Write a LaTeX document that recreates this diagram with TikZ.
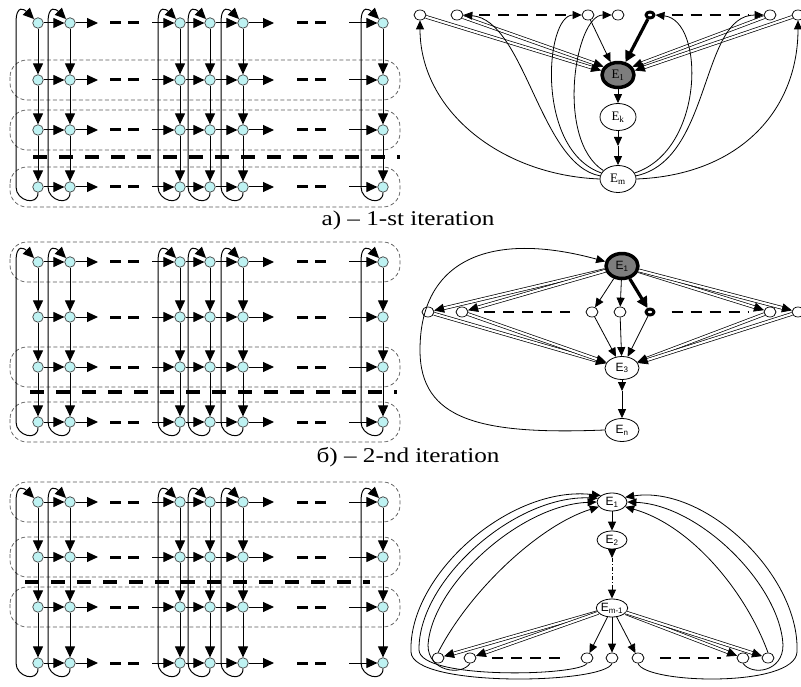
\documentclass[tikz,border=0pt]{standalone}
\usepackage{fontspec}
\setmainfont{Liberation Serif}
\newfontfamily\capfont[FakeStretch=1.2]{Liberation Serif}
\newfontfamily\lblsans{Liberation Sans}
\usetikzlibrary{arrows.meta,shapes.geometric}
\definecolor{cyanlt}{RGB}{190,242,242}
\definecolor{egray}{RGB}{125,125,125}
\begin{document}
\begin{tikzpicture}[x=1pt,y=-1pt,line join=round,
	gn/.style={circle,draw=black!75,fill=cyanlt,line width=0.7pt,minimum size=10.5pt,inner sep=0pt},
	garr/.style={-{Triangle[length=11pt,width=10pt]},line width=1pt},
	rdash/.style={line width=3pt,dash pattern=on 11pt off 7pt},
	hdash/.style={line width=3.5pt,dash pattern=on 14pt off 12pt},
	box/.style={draw=black!65,line width=0.7pt,dash pattern=on 4pt off 2.5pt,rounded corners=17pt},
	sn/.style={ellipse,draw,fill=white,line width=0.7pt,minimum width=12pt,minimum height=10pt,inner sep=0pt},
	bn/.style={sn,line width=3pt,minimum width=8pt,minimum height=6pt},
	en/.style={ellipse,draw,fill=white,line width=0.8pt,inner sep=0pt,minimum width=36pt,minimum height=27pt},
	es/.style={en,minimum width=30pt,minimum height=18pt},
	eg/.style={en,fill=egray,line width=3.5pt,minimum width=32pt,minimum height=25pt},
	arr/.style={-{Triangle[length=9pt,width=8pt]},line width=0.8pt},
	dbl/.style={double,double distance=2.2pt,line width=0.7pt,-{Triangle[length=10pt,width=9pt]}},
	thk/.style={line width=3.2pt,-{Triangle[length=11pt,width=11pt]}},
	gd/.style={line width=2.8pt,dash pattern=on 11pt off 8pt,shorten <=16pt,shorten >=16pt},
	capt/.style={font=\capfont\fontsize{21}{24}\selectfont},
	la/.style={font=\fontsize{13}{13}\selectfont},
	lb/.style={font=\lblsans\fontsize{12}{12}\selectfont}]
	\useasboundingbox (0,0) rectangle (801,687);
	% dashed row boxes and thick dividers
	\foreach \y in {80,130,187,262,367,422,502,557,607}
		\draw[box] (10,{\y-20}) rectangle (400,{\y+20});
	\draw[hdash] (33,157)--(400,157);
	\draw[hdash] (30,392)--(397,392);
	\draw[hdash] (25,582)--(370,582);
	% three grids
	\foreach \p/\ya/\yb/\yc/\yd in {a/23/80/130/187,b/262/317/367/422,c/502/557/607/663}{
		\foreach \y [count=\r] in {\ya,\yb,\yc,\yd}
			\foreach \x [count=\c] in {38,70,180,210,243,383}
				\node[gn] (\p-\r-\c) at (\x,\y) {};
		\foreach \c in {1,...,6}{
			\foreach \r/\rr in {1/2,2/3,3/4}
				\draw[garr] (\p-\r-\c)--(\p-\rr-\c);
			\draw[garr] (\p-4-\c.south) .. controls +(0,14) and +(0,14) .. ([xshift=-22pt]\p-4-\c.center)
				--([xshift=-22pt]\p-1-\c.center) .. controls +(0,-20) and +(-9,-9) .. (\p-1-\c.north west);
		}
		\foreach \r in {1,...,4}{
			\foreach \c/\cc in {1/2,3/4,4/5}
				\draw[garr] (\p-\r-\c)--(\p-\r-\cc);
			\draw[garr] (\p-\r-2)--++(28,0);
			\draw[garr] ([xshift=-28pt]\p-\r-3.center)--(\p-\r-3);
			\draw[garr] (\p-\r-5)--++(31,0);
			\draw[garr] ([xshift=-34pt]\p-\r-6.center)--(\p-\r-6);
			\draw[rdash] ([xshift=40pt]\p-\r-2.center)--++(29,0);
			\draw[rdash] ([xshift=54pt]\p-\r-5.center)--++(33,0);
		}
	}
	\node[capt] (capa) at (408,220) {a) – 1-st iteration};
	\node[capt] (capb) at (408,457) {б) – 2-nd iteration};
	% a) right graph
	\node[sn] (at1) at (420,15) {};
	\node[sn] (at2) at (457,15) {};
	\node[sn] (at3) at (588,15) {};
	\node[sn] (at4) at (618,15) {};
	\node[bn] (at5) at (650,15) {};
	\node[sn] (at6) at (770,15) {};
	\node[sn] (at7) at (798,15) {};
	\node[eg,la] (aE1) at (618,75) {E\textsubscript{1}};
	\node[en,la] (aEk) at (618,117) {E\textsubscript{k}};
	\node[en,la] (aEm) at (618,179) {E\textsubscript{m}};
	\coordinate (aEx) at (618,146);
	\draw[gd] (at2)--(at3);
	\draw[gd] (at5)--(at6);
	\draw[dbl] (at1)--(aE1.165);
	\draw[dbl] (at2)--(aE1.150);
	\draw[arr] (at3)--(aE1.120);
	\draw[thk] (at5)--(aE1.60);
	\draw[dbl] (at6)--(aE1.30);
	\draw[dbl] (at7)--(aE1.15);
	\draw[arr] (aE1)--(aEk);
	\draw[arr] (aEk)--(aEx);
	\draw[arr] (aEx)--(aEm);
	\draw[arr] (aEm.west) .. controls (500,175) and (420,110) .. (at1.south);
	\draw[arr] (aEm.170) .. controls (540,165) and (525,20) .. (at2.east);
	\draw[arr] (aEm.160) .. controls (535,150) and (545,15) .. (at3.west);
	\draw[arr] (aEm.150) .. controls (555,140) and (575,15) .. (at4.west);
	\draw[arr] (aEm.20) .. controls (705,150) and (705,20) .. (at5.east);
	\draw[arr] (aEm.10) .. controls (712,160) and (700,15) .. (at6.west);
	\draw[arr] (aEm.east) .. controls (740,175) and (798,110) .. (at7.south);
	% b) right graph
	\node[eg,lb] (bE1) at (622,266) {E\textsubscript{1}};
	\node[sn] (bm1) at (428,312) {};
	\node[sn] (bm2) at (462,312) {};
	\node[sn] (bm3) at (592,312) {};
	\node[sn] (bm4) at (620,312) {};
	\node[bn] (bm5) at (650,312) {};
	\node[sn] (bm6) at (770,312) {};
	\node[sn] (bm7) at (798,312) {};
	\node[en,lb,minimum width=34pt,minimum height=23pt] (bE3) at (622,368) {E\textsubscript{3}};
	\node[en,lb,minimum width=34pt,minimum height=23pt] (bEn) at (622,430) {E\textsubscript{n}};
	\coordinate (bEx) at (622,391);
	\draw[gd] (bm2)--(bm3);
	\draw[gd] (bm5)--(bm6);
	\foreach \m in {1,2,6,7}{
		\draw[dbl] (bE1)--(bm\m);
		\draw[dbl] (bm\m)--(bE3);
	}
	\foreach \m in {3,4,5}
		\draw[arr] (bm\m)--(bE3);
	\draw[arr] (bE1)--(bm3);
	\draw[arr] (bE1)--(bm4);
	\draw[thk] (bE1)--(bm5);
	\draw[arr] (bE3)--(bEx);
	\draw[arr] (bEx)--(bEn);
	\draw[arr] (bEn.west) .. controls (480,435) and (420,420) .. (420,350)
		.. controls (420,260) and (490,230) .. (bE1.165);
	% c) right graph
	\node[es,lb] (cE1) at (612,502) {E\textsubscript{1}};
	\node[es,lb] (cE2) at (612,540) {E\textsubscript{2}};
	\node[es,lb] (cEm) at (612,608) {E\textsubscript{m-1}};
	\foreach \x [count=\i] in {438,470,587,612,638,743,768}
		\node[sn] (cb\i) at (\x,658) {};
	\coordinate (cx1) at (612,558);
	\coordinate (cx2) at (612,588);
	\draw[arr] (cE1)--(cE2);
	\draw[arr] (cE2)--(cx1);
	\draw[line width=0.8pt,dash pattern=on 4pt off 2pt on 1pt off 2pt] (cx1)--(cx2);
	\draw[arr] (cx2)--(cEm);
	\draw[gd] (cb2)--(cb3);
	\draw[gd] (cb5)--(cb6);
	\foreach \i in {1,2,6,7}
		\draw[dbl] (cEm)--(cb\i);
	\foreach \i in {3,4,5}
		\draw[arr] (cEm)--(cb\i);
	\draw[arr] (cb1.north) .. controls (470,590) and (540,525) .. (cE1.200);
	\draw[arr] (cb2.south) .. controls (462,676) and (428,672) .. (428,645)
		.. controls (432,585) and (520,505) .. (cE1.180);
	\draw[arr] (cb3.south) .. controls (580,676) and (420,680) .. (419,650)
		.. controls (418,580) and (515,495) .. (cE1.165);
	\draw[arr] (cb4.south) .. controls (605,684) and (412,688) .. (411,652)
		.. controls (408,575) and (510,485) .. (cE1.150);
	\draw[arr] (cb7.north) .. controls (745,590) and (690,525) .. (cE1.340);
	\draw[arr] (cb6.south) .. controls (752,676) and (783,672) .. (783,645)
		.. controls (780,585) and (700,505) .. (cE1.0);
	\draw[arr] (cb5.south) .. controls (645,684) and (795,688) .. (797,652)
		.. controls (800,575) and (705,485) .. (cE1.20);
\end{tikzpicture}
\end{document}
